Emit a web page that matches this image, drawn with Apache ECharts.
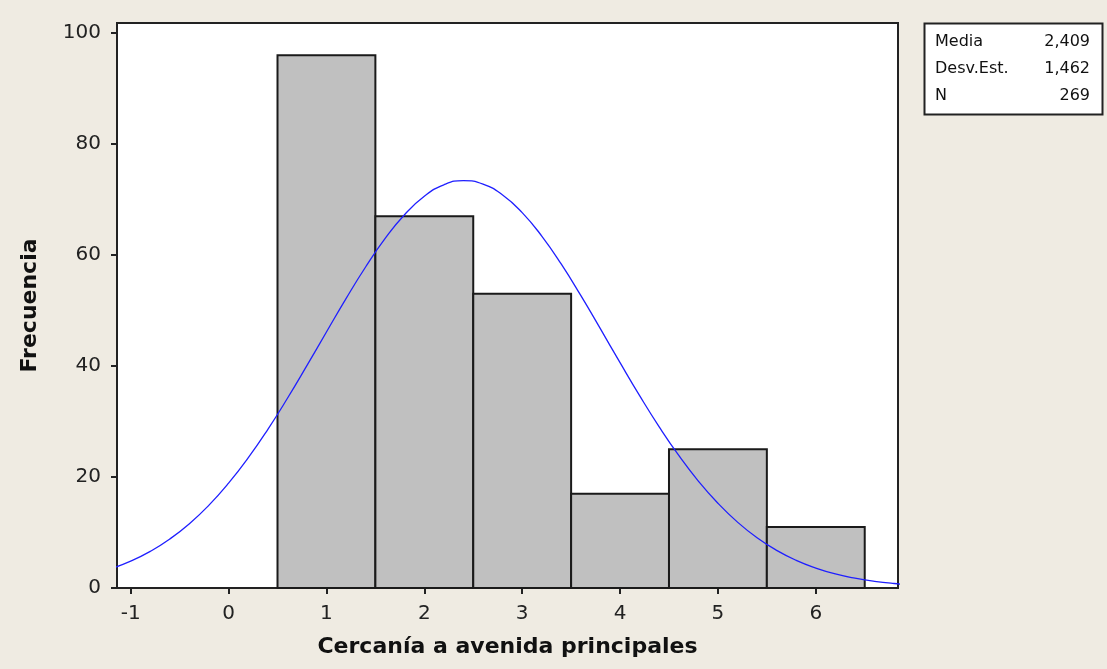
<!DOCTYPE html>
<html>
<head>
<meta charset="utf-8">
<script src="https://cdn.jsdelivr.net/npm/echarts@6/dist/echarts.min.js"></script>
<style>
html,body{margin:0;padding:0;background:#EFEBE2;}
#chart{width:1107px;height:669px;}
</style>
</head>
<body>
<div id="chart"></div>
<script>
// Histogram bins (center of each bin, width 1) and frequencies
const binCenters = [1, 2, 3, 4, 5, 6];
const binCounts = [96, 67, 53, 17, 25, 11];
const binWidth = 1;

// Fitted normal curve
const curveX = [-1.2,-1.0,-0.8,-0.6,-0.4,-0.2,0.0,0.2,0.4,0.6,0.8,1.0,1.2,1.4,1.6,1.8,2.0,2.2,2.4,2.6,2.8,3.0,3.2,3.4,3.6,3.8,4.0,4.2,4.4,4.6,4.8,5.0,5.2,5.4,5.6,5.8,6.0,6.2,6.4,6.6,6.8,7.0];
const curveY = [3.49,4.84,6.60,8.83,11.59,14.93,18.89,23.44,28.55,34.14,40.06,46.13,52.14,57.84,62.98,67.30,70.58,72.65,73.40,72.78,70.82,67.64,63.41,58.34,52.67,46.68,40.60,34.66,29.04,23.88,19.27,15.27,11.87,9.05,6.78,4.98,3.60,2.54,1.77,1.21,0.81,0.53];

// Tick labels
const xTicks = [-1, 0, 1, 2, 3, 4, 5, 6];
const yTicks = [0, 20, 40, 60, 80, 100];

// Summary statistics box
const statNames = ['Media', 'Desv.Est.', 'N'];
const statValues = ['2,409', '1,462', '269'];

const FONT = 'DejaVu Sans';
const chart = echarts.init(document.getElementById('chart'));

const statGraphics = [{
  type: 'rect',
  shape: {x: 924.5, y: 23.5, width: 178, height: 91},
  style: {fill: '#FFFFFF', stroke: '#222', lineWidth: 2}
}];
statNames.forEach((n, i) => {
  statGraphics.push({
    type: 'text', x: 935, y: 42 + i * 27,
    style: {text: n, font: '16px ' + FONT, fill: '#111', textVerticalAlign: 'middle'}
  });
  statGraphics.push({
    type: 'text', x: 1090, y: 42 + i * 27,
    style: {text: statValues[i], font: '16px ' + FONT, fill: '#111', textAlign: 'right', textVerticalAlign: 'middle'}
  });
});

chart.setOption({
  backgroundColor: '#EFEBE2',
  animation: false,
  grid: {
    left: 117, right: 209, top: 23, bottom: 81,
    show: true, backgroundColor: '#FFFFFF', borderColor: '#222', borderWidth: 2
  },
  xAxis: {
    type: 'value', min: -1.14, max: 6.84,
    name: 'Cercanía a avenida principales',
    nameLocation: 'middle', nameGap: 48,
    nameTextStyle: {fontFamily: FONT, fontWeight: 'bold', fontSize: 22, color: '#111'},
    axisLine: {show: true, onZero: false, lineStyle: {color: '#222', width: 2}},
    axisTick: {show: true, customValues: xTicks, length: 6, lineStyle: {color: '#222', width: 2}},
    axisLabel: {customValues: xTicks, fontFamily: FONT, fontSize: 20, color: '#222', margin: 16},
    splitLine: {show: false}
  },
  yAxis: {
    type: 'value', min: 0, max: 101.8,
    name: 'Frecuencia',
    nameLocation: 'middle', nameGap: 76,
    nameTextStyle: {fontFamily: FONT, fontWeight: 'bold', fontSize: 22, color: '#111'},
    axisLine: {show: true, onZero: false, lineStyle: {color: '#222', width: 2}},
    axisTick: {show: true, customValues: yTicks, length: 6, lineStyle: {color: '#222', width: 2}},
    axisLabel: {customValues: yTicks, fontFamily: FONT, fontSize: 20, color: '#222', margin: 16},
    splitLine: {show: false}
  },
  graphic: statGraphics,
  series: [
    {
      type: 'custom',
      data: binCenters.map((c, i) => [c, binCounts[i]]),
      renderItem: function (params, api) {
        const c = api.value(0), v = api.value(1);
        const p0 = api.coord([c - binWidth / 2, v]);
        const p1 = api.coord([c + binWidth / 2, 0]);
        return {
          type: 'rect',
          shape: {x: p0[0], y: p0[1], width: p1[0] - p0[0], height: p1[1] - p0[1]},
          style: {fill: '#C0C0C0', stroke: '#1a1a1a', lineWidth: 2}
        };
      },
      encode: {x: 0, y: 1},
      z: 2
    },
    {
      type: 'line',
      data: curveX.map((x, i) => [x, curveY[i]]),
      smooth: true,
      showSymbol: false,
      clip: true,
      lineStyle: {color: '#1F1FFF', width: 1.3},
      z: 3
    }
  ]
});
</script>
</body>
</html>
